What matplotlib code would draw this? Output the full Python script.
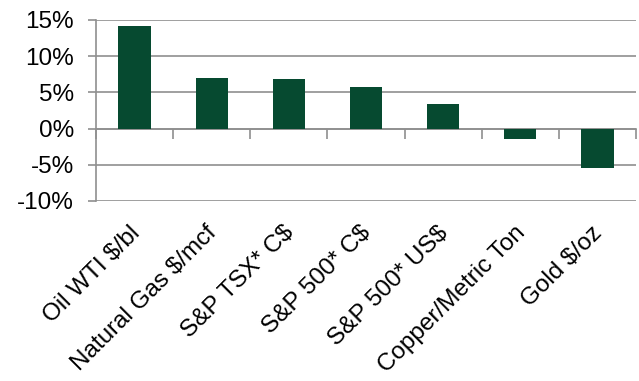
import matplotlib
matplotlib.use("Agg")
import matplotlib.pyplot as plt
import numpy as np
from matplotlib.ticker import FuncFormatter
import matplotlib.transforms as mtransforms

categories = ["Oil WTI $/bl", "Natural Gas $/mcf", "S&P TSX* C$", "S&P 500* C$",
              "S&P 500* US$", "Copper/Metric Ton", "Gold $/oz"]
returns_pct = [14.2, 7.0, 6.8, 5.7, 3.45, -1.4, -5.5]
y_ticks = [-10, -5, 0, 5, 10, 15]

bar_color = "#064a30"
grid_color = "#8f8f8f"

plt.rcParams["font.family"] = ["Liberation Sans", "DejaVu Sans"]

fig = plt.figure(figsize=(6.39, 3.81), dpi=100)
ax = fig.add_axes([96 / 639, 1 - 201 / 381, (636 - 96) / 639, (201 - 20) / 381])

x = np.arange(len(categories))
ax.bar(x, returns_pct, width=0.42, color=bar_color, zorder=3)

ax.set_xlim(-0.5, len(categories) - 0.5)
ax.set_ylim(y_ticks[0], y_ticks[-1])
ax.set_yticks(y_ticks)
ax.yaxis.set_major_formatter(FuncFormatter(lambda v, p: f"{v:.0f}%"))
ax.grid(axis="y", color=grid_color, linewidth=1.2, zorder=0)
ax.tick_params(axis="y", length=6, width=1.2, color=grid_color, labelsize=17.5, pad=10)

for s in ["top", "right", "bottom"]:
    ax.spines[s].set_visible(False)
ax.spines["left"].set_color(grid_color)
ax.spines["left"].set_linewidth(1.2)

# category labels along the bottom, rotated
ax.set_xticks(x)
ax.set_xticklabels(categories, rotation=45, ha="right", rotation_mode="anchor", fontsize=17.5)
ax.tick_params(axis="x", length=0, pad=15)
offset = mtransforms.ScaledTranslation(-6 / 100, 0, fig.dpi_scale_trans)
for lbl in ax.get_xticklabels():
    lbl.set_transform(lbl.get_transform() + offset)

# category axis drawn through zero with boundary ticks
zero_frac = (0 - y_ticks[0]) / (y_ticks[-1] - y_ticks[0])
sec = ax.secondary_xaxis(zero_frac)
sec.set_xticks(np.arange(len(categories) + 1) - 0.5)
sec.set_xticklabels([])
sec.tick_params(axis="x", direction="out", length=7, width=1.2, color=grid_color)
sec.spines["bottom"].set_color(grid_color)
sec.spines["bottom"].set_linewidth(1.2)
sec.spines["bottom"].set_zorder(4)

fig.savefig("out.png", dpi=100)
